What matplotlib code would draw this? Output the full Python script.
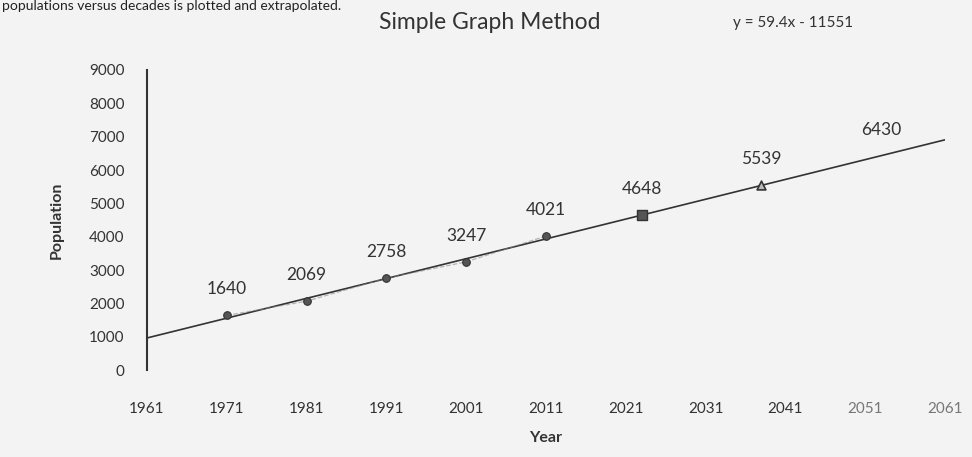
import numpy as np
import matplotlib
matplotlib.use('Agg')
import matplotlib.pyplot as plt

plt.rcParams['font.family'] = ['Lato', 'DejaVu Sans']

# observed census values
obs_years = [1971, 1981, 1991, 2001, 2011]
obs_pop   = [1640, 2069, 2758, 3247, 4021]

# projected values (positions)
proj_years   = [2023, 2038, 2053]
proj_pop     = [4648, 5539, 6430]
proj_markers = ['s', '^', None]

x_ticks  = [1961, 1971, 1981, 1991, 2001, 2011, 2021, 2031, 2041, 2051, 2061]
y_ticks  = [0, 1000, 2000, 3000, 4000, 5000, 6000, 7000, 8000, 9000]
title    = 'Simple Graph Method'
eq_text  = 'y = 59.4x - 11551'
top_text = 'populations versus decades is plotted and extrapolated.'

bg  = '#f3f3f3'
ink = '#333333'

fig = plt.figure(figsize=(9.72, 4.57), dpi=100, facecolor=bg)
ax  = fig.add_axes([0.1512, 0.190, 0.8210, 0.657], facecolor=bg)

# linear trend through the observed points, extended over the axis
slope, icpt = np.polyfit(obs_years, obs_pop, 1)
tx = np.array([x_ticks[0], x_ticks[-1]])
ax.plot(tx, slope*tx + icpt, color=ink, lw=1.2, zorder=2)

# faint dashed connector of the observations
ax.plot(obs_years, obs_pop, color='#888888', lw=0.9, ls='--', alpha=0.6, zorder=2)

ax.scatter(obs_years, obs_pop, s=30, color='#555555', edgecolor=ink, lw=0.8, zorder=3)
for yr, p, m in zip(proj_years, proj_pop, proj_markers):
	if m == 's':
		ax.scatter([yr], [p], marker='s', s=45, color='#555555', edgecolor=ink, lw=1, zorder=3)
	elif m == '^':
		ax.scatter([yr], [p], marker='^', s=40, color='#bbbbbb', edgecolor=ink, lw=1.2, zorder=3)

for yr, p in zip(obs_years + proj_years, obs_pop + proj_pop):
	ax.annotate(str(p), (yr, p), xytext=(0, 13), textcoords='offset points',
				ha='center', va='bottom', fontsize=12.5, color=ink)

ax.set_xlim(x_ticks[0], x_ticks[-1])
ax.set_ylim(0, 9000)
ax.set_xticks(x_ticks)
ax.set_yticks(y_ticks)
ax.tick_params(axis='x', length=0, pad=23, labelsize=11, labelcolor=ink)
ax.tick_params(axis='y', length=0, pad=16, labelsize=11, labelcolor=ink)
for lbl in ax.get_xticklabels()[-2:]:
	lbl.set_color('#777777')

for s in ['top', 'right', 'bottom']:
	ax.spines[s].set_visible(False)
ax.spines['left'].set_color(ink)
ax.spines['left'].set_linewidth(1.5)

ax.set_xlabel('Year', fontsize=11.5, fontweight='bold', color=ink, labelpad=11)
ax.set_ylabel('Population', fontsize=11.5, fontweight='bold', color=ink, labelpad=18)

fig.text(0.504, 0.950, title, ha='center', va='center', fontsize=16.5, color=ink)
fig.text(0.816, 0.950, eq_text, ha='center', va='center', fontsize=11, color=ink)
fig.text(0.002, 0.999, top_text, ha='left', va='top', fontsize=10, color='#222222')

fig.savefig('out.png', dpi=100, facecolor=bg)
